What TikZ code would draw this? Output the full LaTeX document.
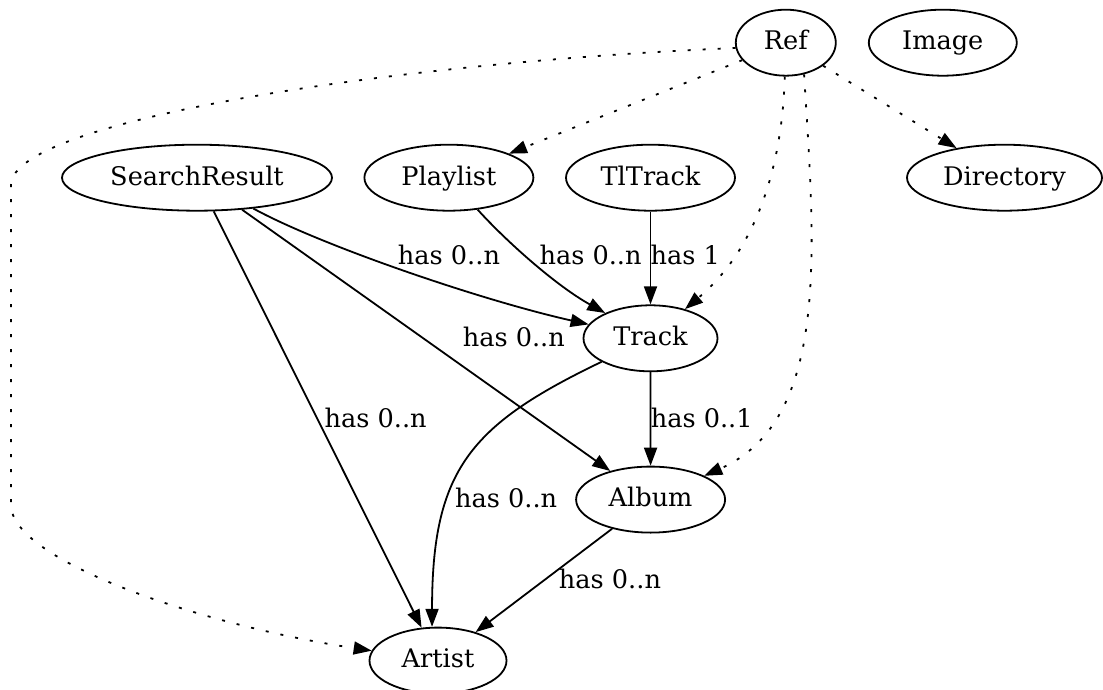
\documentclass[tikz,border=0pt]{standalone}
\usepackage{fontspec}
\setmainfont{DejaVu Serif}
\usetikzlibrary{shapes.geometric,arrows.meta}

\begin{document}
\begin{tikzpicture}[x=1pt, y=-1pt, >={Triangle[length=18pt,width=13pt]},
  every node/.style={font=\fontsize{25.6}{30}\selectfont},
  entity/.style={ellipse, draw, line width=1.8pt, inner sep=0pt, minimum height=66pt,
    text height=19.5pt, text depth=4.9pt},
  rel/.style={->, line width=1.8pt},
  refrel/.style={->, line width=1.8pt, dash pattern=on 3pt off 12pt},
  tag/.style={inner sep=0pt}]

\useasboundingbox (0,0) rectangle (1103,690);

% Entities
\node[entity, minimum width=100pt] (ref) at (785.8,42.7) {Ref};
\node[entity, minimum width=148pt] (image) at (942.8,42.7) {Image};
\node[entity, minimum width=270pt] (searchresult) at (197,177.7) {SearchResult};
\node[entity, minimum width=169pt] (playlist) at (448.9,177.7) {Playlist};
\node[entity, minimum width=169pt] (tltrack) at (650.5,177.7) {TlTrack};
\node[entity, minimum width=195pt] (directory) at (1004.5,177.7) {Directory};
\node[entity, minimum width=134pt] (track) at (650.5,338.3) {Track};
\node[entity, minimum width=149pt] (album) at (650.6,499.6) {Album};
\node[entity, minimum width=137pt] (artist) at (438,660.6) {Artist};

% Ref links (dotted)
\draw[refrel] (ref) -- (playlist);
\draw[refrel] (ref) -- (directory);
\draw[refrel] (ref) .. controls (782,170) and (755,250) .. (track);
\draw[refrel] (ref.-60) .. controls (815,250) and (830,420) .. (album);
\draw[refrel] (ref.186) .. controls (400,62) and (11,120) .. (11,185)
  -- (11,505) .. controls (11,560) and (200,625) .. (artist);

% Has links
\draw[rel] (searchresult) .. controls (320,245) and (480,300) .. (track);
\draw[rel] (searchresult) -- (album);
\draw[rel] (searchresult) -- (artist);
\draw[rel] (playlist) .. controls (505,240) and (555,285) .. (track);
\draw[rel] (tltrack) -- (track);
\draw[rel] (track) -- (album);
\draw[rel] (track) .. controls (470,425) and (432,470) .. (artist.100);
\draw[rel] (album) -- (artist);

% Link labels
\node[tag] (srtrack) at (449,255.3) {has 0..n};
\node[tag] (pltrack) at (590.6,255.3) {has 0..n};
\node[tag] (tltrk) at (685.3,255.3) {has 1};
\node[tag] (sralbum) at (513.8,336.7) {has 0..n};
\node[tag] (srartist) at (375.7,417.5) {has 0..n};
\node[tag] (trkalbum) at (701.7,417.5) {has 0..1};
\node[tag] (trkartist) at (506.2,497.8) {has 0..n};
\node[tag] (albartist) at (610,579.2) {has 0..n};

\end{tikzpicture}
\end{document}
